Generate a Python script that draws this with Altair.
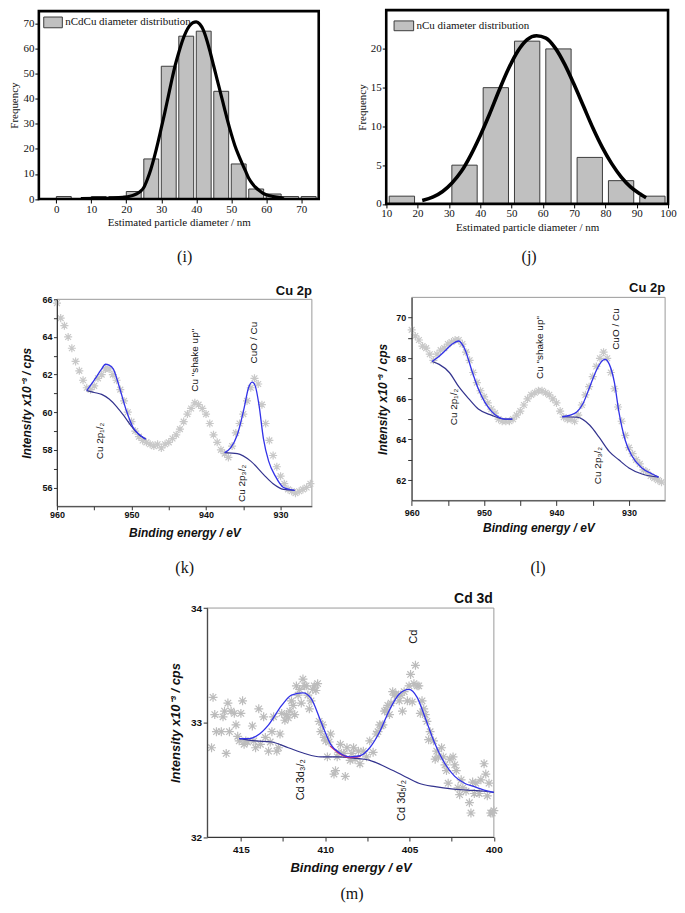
import altair as alt
import pandas as pd

# ---------------- (i) nCdCu diameter distribution ----------------
i_bin_start = [0, 5, 10, 15, 20, 25, 30, 35, 40, 45, 50, 55, 60, 65, 70]
i_bin_end = [5, 10, 15, 20, 25, 30, 35, 40, 45, 50, 55, 60, 65, 70, 75]
i_freq = [1, 0, 1, 1, 3, 16, 53, 65, 67, 43, 14, 4, 2, 1, 1]
i_fit_x = [7, 12, 16, 19, 21, 22, 23, 24, 25, 26, 27, 28, 29, 30, 31, 32, 33, 34, 35, 36, 37, 38,
           39, 40, 41, 42, 43, 44, 45, 46, 47, 48, 49, 50, 51, 52, 53, 54, 55, 56, 57, 58, 59, 60,
           62, 64, 65]
i_fit_y = [0.2, 0.25, 0.4, 0.7, 1.1, 1.5, 2.1, 3.0, 4.6, 7.8, 11.8, 16.7, 22.3, 28.4, 34.5, 41,
           47.5, 53.5, 58.5, 63, 66.5, 69, 70.4, 70.7, 69.8, 67.5, 63.5, 58.5, 53, 47.5, 42, 36.5,
           31, 26, 21.5, 17.8, 14.5, 11.4, 8.3, 6.2, 4.6, 3.4, 2.4, 1.7, 1.0, 0.6, 0.5]

# ---------------- (j) nCu diameter distribution ----------------
j_bin_start = [10, 20, 30, 40, 50, 60, 70, 80, 90]
j_bin_end = [20, 30, 40, 50, 60, 70, 80, 90, 100]
j_freq = [1, 0, 5, 15, 21, 20, 6, 3, 1]
j_fit_x = [21.5, 25, 28, 31, 34, 37, 40, 43, 46, 49, 52, 55, 58, 61, 64, 67, 70, 73, 76, 79, 82,
           85, 88, 91, 93]
j_fit_y = [0.45, 0.9, 1.6, 2.7, 4.2, 6.3, 8.8, 11.6, 14.6, 17.4, 19.7, 21.2, 21.7, 21.4, 20.1,
           18.0, 15.4, 12.6, 9.8, 7.3, 5.2, 3.5, 2.2, 1.3, 0.8]

# ---------------- (k) Cu 2p XPS, nCdCu ----------------
k_be = [960.0, 959.5, 959.0, 958.5, 958.0, 957.5, 957.0, 956.5, 956.0, 955.5, 955.0, 954.5, 954.0,
        953.5, 953.0, 952.5, 952.0, 951.5, 951.0, 950.5, 950.0, 949.5, 949.0, 948.5, 948.0, 947.5,
        947.0, 946.5, 946.0, 945.5, 945.0, 944.5, 944.0, 943.5, 943.0, 942.5, 942.0, 941.5, 941.0,
        940.5, 940.0, 939.5, 939.0, 938.5, 938.0, 937.5, 937.0, 936.5, 936.0, 935.5, 935.0, 934.5,
        934.0, 933.5, 933.0, 932.5, 932.0, 931.5, 931.0, 930.5, 930.0, 929.5, 929.0, 928.5, 928.0,
        927.5, 927.0, 926.5, 926.0]
k_int = [65.8, 65.0, 64.6, 64.0, 63.4, 62.7, 62.2, 61.7, 61.3, 61.2, 61.4, 61.8, 62.0,
         62.3, 62.3, 62.0, 61.7, 61.2, 60.6, 60.0, 59.5, 59.0, 58.7, 58.5, 58.4, 58.3,
         58.2, 58.3, 58.1, 58.3, 58.4, 58.6, 58.8, 59.1, 59.5, 59.9, 60.2, 60.5, 60.4,
         60.2, 59.9, 59.4, 58.8, 58.4, 58.0, 57.8, 57.6, 58.2, 58.9, 59.4, 59.9, 60.6,
         61.3, 61.8, 61.5, 60.4, 59.4, 58.5, 57.7, 57.1, 56.6, 56.2, 55.9, 55.8, 55.7,
         55.8, 55.9, 56.0, 56.2]
k_env1_x = [956.0, 955.0, 954.0, 953.5, 953.0, 952.45, 951.6, 950.7, 949.8, 948.9, 948.1]
k_env1_y = [61.15, 61.7, 62.3, 62.55, 62.5, 62.3, 61.3, 60.1, 59.2, 58.8, 58.57]
k_bg1_x = [956.0, 955.0, 954.0, 953.0, 952.0, 951.0, 950.0, 949.0, 948.1]
k_bg1_y = [61.15, 61.05, 60.95, 60.7, 60.3, 59.8, 59.25, 58.8, 58.57]
k_env2_x = [937.5, 936.7, 935.8, 934.9, 934.3, 933.8, 933.4, 932.9, 932.3, 931.6, 930.7, 929.6, 928.1]
k_env2_y = [57.85, 58.1, 58.8, 60.2, 61.3, 61.6, 61.4, 60.4, 58.6, 57.4, 56.6, 56.0, 55.85]
k_bg2_x = [937.5, 935.8, 934.0, 932.3, 931.0, 929.6, 928.1]
k_bg2_y = [57.85, 57.8, 57.4, 56.7, 56.2, 55.9, 55.85]
k_lab_text = ["CuO / Cu", "Cu \"shake up\"", "Cu 2p\u2081/\u2082", "Cu 2p\u2083/\u2082"]
k_lab_x = [933.6, 941.5, 954.25, 935.17]
k_lab_y = [63.7, 62.76, 58.47, 56.22]

# ---------------- (l) Cu 2p XPS, nCu ----------------
l_be = [960.0, 959.5, 959.0, 958.5, 958.0, 957.5, 957.0, 956.5, 956.0, 955.5, 955.0, 954.5, 954.0,
        953.5, 953.0, 952.5, 952.0, 951.5, 951.0, 950.5, 950.0, 949.5, 949.0, 948.5, 948.0, 947.5,
        947.0, 946.5, 946.0, 945.5, 945.0, 944.5, 944.0, 943.5, 943.0, 942.5, 942.0, 941.5, 941.0,
        940.5, 940.0, 939.5, 939.0, 938.5, 938.0, 937.5, 937.0, 936.5, 936.0, 935.5, 935.0, 934.5,
        934.0, 933.5, 933.0, 932.5, 932.0, 931.5, 931.0, 930.5, 930.0, 929.5, 929.0, 928.5, 928.0,
        927.5, 927.0, 926.5, 926.0, 925.5]
l_int = [69.4, 69.1, 68.9, 68.6, 68.5, 68.2, 67.9, 68.2, 68.4, 68.5, 68.7, 68.8, 68.9,
         68.9, 68.7, 68.3, 67.9, 67.3, 66.8, 66.4, 66.1, 65.8, 65.5, 65.3, 65.0, 64.9,
         64.9, 64.9, 65.0, 65.2, 65.4, 65.7, 66.0, 66.2, 66.3, 66.4, 66.4, 66.3, 66.2,
         66.0, 65.8, 65.4, 65.1, 65.0, 65.0, 64.9, 65.2, 65.7, 66.2, 66.6, 67.1, 67.6,
         68.0, 68.3, 68.0, 67.3, 66.5, 65.6, 64.9, 64.2, 63.6, 63.3, 63.0, 62.8, 62.5,
         62.4, 62.2, 62.1, 62.0, 61.9]
l_env1_x = [957.2, 956.2, 955.3, 954.4, 953.55, 952.6, 951.7, 950.8, 949.9, 949.0, 948.0, 947.1, 946.1]
l_env1_y = [67.84, 68.1, 68.4, 68.7, 68.85, 68.4, 67.4, 66.5, 65.84, 65.4, 65.1, 65.0, 65.0]
l_bg1_x = [957.2, 956.2, 954.8, 953.5, 952.1, 950.8, 949.0, 947.1, 946.1]
l_bg1_y = [67.84, 67.7, 67.3, 66.6, 66.0, 65.5, 65.2, 65.0, 65.0]
l_env2_x = [939.2, 938.1, 937.2, 936.3, 935.4, 934.5, 933.6, 933.3, 932.7, 932.0, 931.4, 930.5,
            929.6, 928.2, 926.8, 925.9]
l_env2_y = [65.12, 65.2, 65.35, 65.8, 66.6, 67.4, 67.9, 67.95, 67.7, 66.8, 65.4, 63.95, 63.2,
            62.6, 62.3, 62.15]
l_bg2_x = [939.2, 937.2, 935.4, 934.1, 932.7, 931.4, 930.0, 928.2, 925.9]
l_bg2_y = [65.12, 65.1, 64.7, 64.1, 63.4, 63.0, 62.6, 62.3, 62.15]
l_lab_text = ["CuO / Cu", "Cu \"shake up\"", "Cu 2p\u2081/\u2082", "Cu 2p\u2083/\u2082"]
l_lab_x = [931.8, 942.23, 954.14, 934.25]
l_lab_y = [69.44, 68.53, 65.6, 62.72]

# ---------------- (m) Cd 3d XPS ----------------
m_be = [416.65, 416.55, 416.74, 416.45, 416.16, 416.06, 415.97, 415.87, 415.77, 415.68, 415.58,
        415.39, 415.29, 415.19, 415.10, 415.00, 414.90, 414.81, 414.71, 414.61, 414.32, 414.23,
        414.13, 413.94, 413.84, 413.65, 413.55, 413.36, 413.26, 413.16, 413.06, 412.87, 412.77,
        412.68, 412.58, 412.39, 412.29, 412.19, 412.10, 412.00, 411.90, 411.81, 411.71, 411.61,
        411.52, 411.42, 411.32, 411.23, 411.13, 411.03, 410.94, 410.84, 410.74, 410.65, 410.55,
        410.45, 410.36, 410.26, 410.16, 410.06, 409.97, 409.87, 409.77, 409.68, 409.48, 409.39,
        409.29, 409.19, 409.10, 408.90, 408.81, 408.71, 408.52, 408.42, 408.32, 408.23, 408.03,
        407.94, 407.74, 407.55, 407.36, 407.16, 406.97, 406.87, 406.77, 406.68, 406.58, 406.48,
        406.39, 406.29, 406.19, 406.10, 406.00, 405.90, 405.81, 405.61, 405.52, 405.42, 405.32,
        405.13, 405.03, 404.94, 404.84, 404.74, 404.65, 404.55, 404.45, 404.36, 404.26, 404.16,
        404.07, 403.97, 403.87, 403.78, 403.58, 403.48, 403.39, 403.29, 403.10, 403.00, 402.90,
        402.81, 402.71, 402.61, 402.42, 402.32, 402.23, 402.13, 402.03, 401.94, 401.84, 401.65,
        401.45, 401.36, 401.26, 401.16, 401.07, 400.87, 400.77, 400.58, 400.48, 400.39, 400.29,
        400.19, 400.10, 400.00]
m_int = [33.22, 33.07, 32.78, 32.92, 32.92, 33.05, 33.10, 32.73, 33.17, 32.92, 33.10,
         33.08, 32.98, 32.88, 32.84, 33.08, 33.19, 32.81, 32.84, 32.83, 32.97, 32.84,
         32.78, 33.12, 32.81, 33.05, 32.87, 32.75, 32.83, 32.92, 33.05, 32.75, 32.78,
         32.90, 33.08, 33.02, 33.07, 33.04, 33.10, 33.19, 33.15, 33.07, 33.32, 33.24,
         33.29, 33.17, 33.38, 33.32, 33.32, 33.24, 33.12, 33.19, 33.29, 33.32, 33.28,
         33.34, 33.01, 32.92, 32.98, 32.87, 32.84, 32.70, 32.83, 32.90, 32.55, 32.58,
         32.70, 32.74, 32.81, 32.73, 32.53, 32.78, 32.67, 32.73, 32.78, 32.68, 32.75,
         32.64, 32.75, 32.70, 32.84, 32.74, 32.90, 32.92, 32.98, 32.97, 32.98, 33.10,
         33.11, 33.15, 33.07, 33.17, 33.27, 33.24, 33.25, 33.19, 33.24, 33.10, 33.27,
         33.19, 33.32, 33.42, 33.18, 33.34, 33.50, 33.32, 33.32, 33.08, 33.19, 33.12,
         33.07, 33.01, 32.85, 32.92, 32.84, 32.68, 32.75, 32.70, 32.78, 32.70, 32.63,
         32.58, 32.47, 32.68, 32.70, 32.63, 32.58, 32.43, 32.37, 32.50, 32.43, 32.40,
         32.30, 32.21, 32.48, 32.38, 32.47, 32.38, 32.50, 32.64, 32.55, 32.36, 32.47,
         32.21, 32.21, 32.23]
m_env_x = [415.1, 414.5, 413.9, 413.36, 412.58, 412.0, 411.32, 410.84, 410.26, 409.68, 409.10,
           408.52, 407.94, 407.36, 406.77, 406.19, 405.61, 405.03, 404.55, 404.07, 403.48, 402.90,
           402.32, 401.74, 401.16, 400.58, 400.0]
m_env_y = [32.86, 32.86, 32.90, 32.98, 33.15, 33.24, 33.26, 33.21, 33.01, 32.81, 32.73,
           32.70, 32.71, 32.78, 32.92, 33.11, 33.25, 33.29, 33.22, 33.04, 32.81, 32.64,
           32.53, 32.47, 32.44, 32.41, 32.39]
m_bg_x = [415.1, 414.13, 413.16, 412.19, 411.23, 410.26, 409.29, 408.32, 407.36, 406.39, 405.42,
          404.45, 403.48, 402.52, 401.55, 400.58, 400.0]
m_bg_y = [32.86, 32.84, 32.83, 32.78, 32.73, 32.70, 32.70, 32.69, 32.67, 32.61, 32.54,
          32.47, 32.44, 32.42, 32.41, 32.40, 32.39]
m_red_x = [409.7, 409.1, 408.5, 407.9]
m_red_y = [32.795, 32.725, 32.695, 32.705]
m_lab_text = ["Cd", "Cd 3d\u2083/\u2082", "Cd 3d\u2085/\u2082"]
m_lab_x = [404.74, 411.42, 405.42]
m_lab_y = [33.75, 32.50, 32.32]

# ---------------- layout / style ----------------
SERIF = "Liberation Serif"
SANS = "Liberation Sans"
W, H = 669, 897
SC = 0.98


def px(v):
    return round(1.5 + SC * v, 2)


py = px
ONE = pd.DataFrame({"k": [0]})
STAR = "M-1,0L1,0M0,-1L0,1M-0.72,-0.72L0.72,0.72M-0.72,0.72L0.72,-0.72"
ENV = "#3232e8"
BGC = "#33338e"
INT_LABEL = "'' + round(datum.value)"


def mk_axis(orient, edge, values, title, font, lsize, tsize, weight, tstyle, tick, lpad, tpad,
            color, domain, label_expr=None):
    off = round(py(edge) - H, 2) if orient == "bottom" else -px(edge)
    kw = dict(orient=orient, offset=off, values=values, title=title, grid=False, domain=domain,
              domainColor=color, domainWidth=1, tickColor=color, tickSize=tick, tickWidth=1,
              labelFont=font, labelFontSize=lsize, labelFontWeight=weight, labelColor="#111",
              titleFont=font, titleFontSize=tsize, titleFontWeight=weight, titleFontStyle=tstyle,
              titleColor="#111", titlePadding=tpad, labelPadding=lpad, labelFlush=False,
              labelOverlap=False, zindex=1)
    if label_expr:
        kw["labelExpr"] = label_expr
    return alt.Axis(**kw)


def frame(xs, ys, xa, ya, x0, x1, y0, y1, color, width):
    return alt.Chart(ONE).mark_rect(fillOpacity=0, stroke=color, strokeWidth=width).encode(
        x=alt.XDatum(x0, scale=xs, axis=xa), x2=alt.datum(x1),
        y=alt.YDatum(y0, scale=ys, axis=ya), y2=alt.datum(y1))


def text_at(t, x, y, **kw):
    return alt.Chart(ONE).mark_text(text=t, **kw).encode(x=alt.value(px(x)), y=alt.value(py(y)))


def hist_panel(starts, ends, freq, fx, fy, xdom, ydom, box, xvals, yvals, legend, letter,
               swatch, xoff, x2off, curve_w):
    L, T, R, B = box
    xs = alt.Scale(domain=xdom, range=[px(L), px(R)], nice=False, zero=False)
    ys = alt.Scale(domain=ydom, range=[py(B), py(T)], nice=False, zero=False)
    xa = mk_axis("bottom", B, xvals, "Estimated particle diameter / nm", SERIF, 11, 11, "normal",
                 "normal", 4, 0, 3, "#000", False)
    ya = mk_axis("left", L, yvals, "Frequency", SERIF, 11, 11, "normal", "normal", 4, 1, 3,
                 "#000", False)
    bars_df = pd.DataFrame({"start": starts, "end": ends, "freq": freq})
    fit_df = pd.DataFrame({"x": fx, "y": fy})
    bars = alt.Chart(bars_df).mark_rect(fill="#c0c0c0", stroke="#3c3c3c", strokeWidth=1,
                                        xOffset=xoff, x2Offset=x2off).encode(
        x=alt.X("start:Q", scale=xs, axis=xa), x2="end:Q",
        y=alt.Y("freq:Q", scale=ys, axis=ya), y2=alt.datum(0))
    fit = alt.Chart(fit_df).mark_line(color="#000", strokeWidth=curve_w, interpolate="monotone").encode(
        x=alt.X("x:Q", scale=xs, axis=xa), y=alt.Y("y:Q", scale=ys, axis=ya))
    fr = frame(xs, ys, xa, ya, xdom[0], xdom[1], ydom[0], ydom[1], "#000", 2.6)
    sx0, sy0, sx1, sy1 = swatch
    sw = alt.Chart(ONE).mark_rect(fill="#c0c0c0", stroke="#3c3c3c", strokeWidth=1).encode(
        x=alt.value(px(sx0)), x2=alt.value(px(sx1)), y=alt.value(py(sy0)), y2=alt.value(py(sy1)))
    lt = text_at(legend, sx1 + 3, (sy0 + sy1) / 2, align="left", baseline="middle", font=SERIF,
                 fontSize=11, color="#111")
    lab = text_at(letter[0], letter[1], letter[2], align="center", baseline="middle", font=SERIF,
                  fontSize=16, color="#111")
    return alt.layer(bars, fit, fr, sw, lt, lab)


def xps_panel(be, inten, envs, bgs, labels, xdom, ydom, box, xvals, xexpr, yvals, yexpr, title,
              letter, lab_size, ax_style, star_size, star_col, red=None, fsz=12):
    L, T, R, B = box
    xs = alt.Scale(domain=xdom, range=[px(L), px(R)], reverse=True, nice=False, zero=False)
    ys = alt.Scale(domain=ydom, range=[py(B), py(T)], nice=False, zero=False)
    xtick, xlpad, xtpad, ytick, ylpad, ytpad, lsz = ax_style
    xa = mk_axis("bottom", B, xvals, "Binding energy  /  eV", SANS, lsz, fsz, "bold", "italic",
                 xtick, xlpad, xtpad, "#333", True, xexpr)
    ya = mk_axis("left", L, yvals, "Intensity x10\u207b\u00b3  /  cps", SANS, lsz, fsz, "bold",
                 "italic", ytick, ylpad, ytpad, "#333", True, yexpr)
    fr = frame(xs, ys, xa, ya, xdom[0], xdom[1], ydom[0], ydom[1], "#9a9a9a", 1)
    pts = alt.Chart(pd.DataFrame({"x": be, "y": inten})).mark_point(
        shape=STAR, filled=False, size=star_size, color=star_col, strokeWidth=1.2, opacity=1).encode(
        x=alt.X("x:Q", scale=xs, axis=xa), y=alt.Y("y:Q", scale=ys, axis=ya))
    layers = [fr, pts]

    def line_layer(segs, color, width):
        rows = []
        for si, (sx, sy) in enumerate(segs):
            for a, b in zip(sx, sy):
                rows.append({"x": a, "y": b, "seg": si})
        return alt.Chart(pd.DataFrame(rows)).mark_line(
            color=color, strokeWidth=width, interpolate="monotone").encode(
            x=alt.X("x:Q", scale=xs, axis=xa), y=alt.Y("y:Q", scale=ys, axis=ya),
            detail="seg:N", order=alt.Order("x:Q", sort="descending"))

    layers.append(line_layer(bgs, BGC, 1.2))
    if red is not None:
        layers.append(line_layer([red], "#e0306a", 1.6))
    layers.append(line_layer(envs, ENV, 1.3))
    lt, lx, ly = labels
    layers.append(alt.Chart(pd.DataFrame({"t": lt, "x": lx, "y": ly})).mark_text(
        angle=270, align="center", baseline="middle", font=SANS, fontSize=lab_size,
        color="#111").encode(x=alt.X("x:Q", scale=xs, axis=xa), y=alt.Y("y:Q", scale=ys, axis=ya),
                             text="t:N"))
    tt, tx, ty, tsz = title
    layers.append(text_at(tt, tx, ty, align="right", baseline="middle", font=SANS, fontSize=tsz,
                          fontWeight="bold", color="#111"))
    layers.append(text_at(letter[0], letter[1], letter[2], align="center", baseline="middle",
                          font=SERIF, fontSize=16, color="#111"))
    return alt.layer(*layers)


p_i = hist_panel(i_bin_start, i_bin_end, i_freq, i_fit_x, i_fit_y, [-5, 75], [0, 75],
                 (30, 1, 316, 193), list(range(0, 71, 10)), list(range(0, 71, 10)),
                 "nCdCu diameter distribution", ("(i)", 179, 252), (35, 7, 54, 18), 0, -2.6, 3.2)
p_j = hist_panel(j_bin_start, j_bin_end, j_freq, j_fit_x, j_fit_y, [10, 100], [0, 25],
                 (385, 0, 673, 198), list(range(10, 101, 10)), [0, 5, 10, 15, 20],
                 "nCu diameter distribution", ("(j)", 531, 252), (393, 11, 413, 21), 3, -3, 3.6)

p_k = xps_panel(k_be, k_int, [(k_env1_x, k_env1_y), (k_env2_x, k_env2_y)],
                [(k_bg1_x, k_bg1_y), (k_bg2_x, k_bg2_y)], (k_lab_text, k_lab_x, k_lab_y),
                [925.8, 960], [55, 66], (48.5, 295.5, 309, 507), [930, 935, 940, 945, 950, 955, 960],
                "datum.value % 10 == 0 ? datum.label : ''", list(range(56, 67)),
                "datum.value % 2 == 0 ? datum.label : ''", ("Cu 2p", 309, 287, 13),
                ("(k)", 179, 570), 10, (3.5, 1, 8, 3.5, 1.5, 8, 9), 65, "#c8c8c8")
p_l = xps_panel(l_be, l_int, [(l_env1_x, l_env1_y), (l_env2_x, l_env2_y)],
                [(l_bg1_x, l_bg1_y), (l_bg2_x, l_bg2_y)], (l_lab_text, l_lab_x, l_lab_y),
                [925, 960], [61, 71], (411, 293.5, 670, 501), [930, 935, 940, 945, 950, 955, 960],
                "datum.value % 10 == 0 ? datum.label : ''", list(range(62, 71)),
                "datum.value % 2 == 0 ? datum.label : ''", ("Cu 2p", 670, 284, 13),
                ("(l)", 540, 570), 10, (5, 3, 5, 4, 2, 6, 9), 65, "#c8c8c8")
p_m = xps_panel(m_be, m_int, [(m_env_x, m_env_y)], [(m_bg_x, m_bg_y)],
                (m_lab_text, m_lab_x, m_lab_y), [400, 417], [32, 34], (202, 611, 495, 845),
                [400, 402.5, 405, 407.5, 410, 412.5, 415],
                "datum.value % 5 == 0 ? datum.label : ''", [32, 33, 34], INT_LABEL,
                ("Cd 3d", 494, 602, 14), ("(m)", 350, 903), 11, (4, 3, 8, 4, 1.5, 8, 10), 80,
                "#bcbcbc", red=(m_red_x, m_red_y), fsz=13)

chart = alt.layer(p_i, p_j, p_k, p_l, p_m).resolve_scale(
    x="independent", y="independent").properties(
    width=W, height=H, padding=0, background="white").configure_view(strokeWidth=0)

chart.save("out.html", embed_options={"renderer": "svg", "actions": False})
